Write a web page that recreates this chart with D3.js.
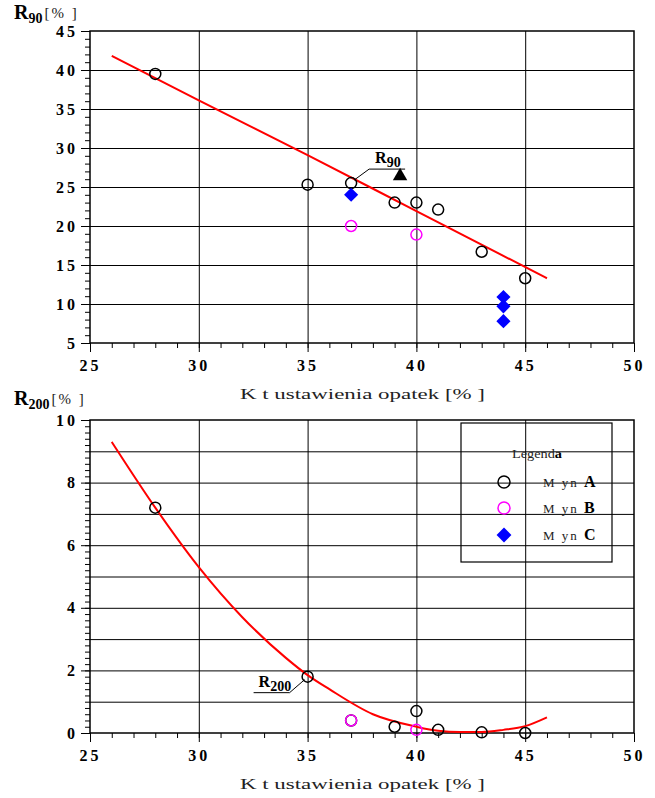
<!DOCTYPE html>
<html>
<head>
<meta charset="utf-8">
<script src="https://cdn.jsdelivr.net/npm/d3@7"></script>
<style>
  body { margin: 0; background: #fff; }
  svg { display: block; }
  .tick text { font-family: "Liberation Serif", serif; font-weight: bold; font-size: 16px; letter-spacing: 3px; fill: #000; }
  .lbl { font-family: "Liberation Serif", serif; fill: #222; }
</style>
</head>
<body>
<svg width="655" height="798"></svg>
<script>
// R90 – Mlyn A, B, C
var r90A_x = [28, 35, 37, 39, 40, 41, 43, 45];
var r90A_y = [39.5, 25.3, 25.5, 23, 23, 22.1, 16.7, 13.3];
var r90B_x = [37, 40];
var r90B_y = [20, 18.9];
var r90C_x = [37, 44, 44, 44];
var r90C_y = [24, 10.9, 9.7, 7.8];
var r90Tri = [39.25, 26.4];
// trend line R90
var r90Fit_x = [26, 30, 35, 40, 46];
var r90Fit_y = [41.8, 36.1, 29.1, 21.9, 13.3];

// R200
var r200A_x = [28, 35, 37, 39, 40, 41, 43, 45];
var r200A_y = [7.2, 1.8, 0.4, 0.2, 0.7, 0.1, 0.02, 0.0];
var r200B_x = [37, 40];
var r200B_y = [0.4, 0.1];
var r200Fit_x = [26, 28, 30, 32, 34, 35, 36, 38, 40, 41, 42, 43, 44, 45, 46];
var r200Fit_y = [9.3, 7.2, 5.3, 3.7, 2.4, 1.85, 1.4, 0.6, 0.2, 0.07, 0.03, 0.03, 0.1, 0.22, 0.5];

var xTicks = [25, 30, 35, 40, 45, 50];
var yTopTicks = [5, 10, 15, 20, 25, 30, 35, 40, 45];
var yBotTicks = [0, 2, 4, 6, 8, 10];
var xTitle = 'K  t ustawienia  opatek [%  ]';
var legendNames = ['M  yn  ', 'M  yn  ', 'M  yn  '];
var legendKeys = ['A', 'B', 'C'];

var svg = d3.select('svg');

function zip(xs, ys) { return xs.map((x, i) => [x, ys[i]]); }

function panel(cfg) {
  var x = d3.scaleLinear().domain([25, 50]).range([90, 634]);
  var y = d3.scaleLinear().domain(cfg.ydom).range(cfg.yrange);
  var g = svg.append('g');
  var top = cfg.yrange[1], bot = cfg.yrange[0];

  // grid
  g.append('g').attr('transform', `translate(0,${bot})`)
    .call(d3.axisBottom(x).tickValues(d3.range(30, 50, 5)).tickSize(-(bot - top)).tickFormat(''))
    .call(s => s.select('.domain').remove());
  g.append('g').attr('transform', 'translate(90,0)')
    .call(d3.axisLeft(y).tickValues(cfg.grid).tickSize(-(634 - 90)).tickFormat(''))
    .call(s => s.select('.domain').remove());

  // minor ticks
  g.append('g').attr('transform', `translate(0,${bot})`)
    .call(d3.axisBottom(x).tickValues(d3.range(25, 51, 1)).tickSize(5).tickFormat(''))
    .call(s => s.select('.domain').remove());
  g.append('g').attr('transform', 'translate(90,0)')
    .call(d3.axisLeft(y).tickValues(cfg.minor).tickSize(5).tickFormat(''))
    .call(s => s.select('.domain').remove());

  // major ticks + labels
  g.append('g').attr('transform', `translate(0,${bot})`)
    .call(d3.axisBottom(x).tickValues(xTicks).tickSize(9).tickPadding(8))
    .call(s => s.select('.domain').remove());
  g.append('g').attr('transform', 'translate(90,0)')
    .call(d3.axisLeft(y).tickValues(cfg.yticks).tickSize(9).tickPadding(3))
    .call(s => s.select('.domain').remove());
  g.selectAll('.tick line').attr('stroke', '#000');

  g.append('rect').attr('x', 90).attr('y', top).attr('width', 544).attr('height', bot - top)
    .attr('fill', 'none').attr('stroke', '#000').attr('stroke-width', 1.5);

  g.append('text').attr('class', 'lbl').attr('x', 240).attr('y', bot + 56)
    .attr('font-size', 15).attr('textLength', 245).attr('lengthAdjust', 'spacingAndGlyphs')
    .text(xTitle);

  // y title
  var t = g.append('text').attr('class', 'lbl').attr('x', 14).attr('y', cfg.titleY);
  t.append('tspan').attr('font-size', 20).attr('font-weight', 'bold').attr('fill', '#000').text('R');
  t.append('tspan').attr('font-size', 14).attr('font-weight', 'bold').attr('dy', 4).attr('fill', '#000')
    .text(cfg.sub);
  t.append('tspan').attr('font-size', 15).attr('dy', -5).attr('dx', 2).attr('letter-spacing', 2).text('[%  ]');

  // fit line
  var line = d3.line().x(d => x(d[0])).y(d => y(d[1])).curve(d3.curveMonotoneX);
  g.append('path').datum(zip(cfg.fitX, cfg.fitY)).attr('d', line)
    .attr('fill', 'none').attr('stroke', '#ff0000').attr('stroke-width', 2);

  return { g: g, x: x, y: y };
}

function circles(p, xs, ys, color) {
  p.g.append('g').selectAll('circle').data(zip(xs, ys)).join('circle')
    .attr('cx', d => p.x(d[0])).attr('cy', d => p.y(d[1])).attr('r', 5.5)
    .attr('fill', 'none').attr('stroke', color).attr('stroke-width', 1.5);
}
function diamonds(p, xs, ys, color) {
  p.g.append('g').selectAll('path').data(zip(xs, ys)).join('path')
    .attr('d', d3.symbol(d3.symbolSquare, 100))
    .attr('transform', d => `translate(${p.x(d[0])},${p.y(d[1])}) rotate(45)`)
    .attr('fill', color);
}
function note(p, pt, label, sub, dir) {
  var cx = p.x(pt[0]), cy = p.y(pt[1]);
  var hx = cx + dir * 18;
  var hy = dir > 0 ? cy - 14 : cy + 16;
  var ex = hx + dir * 36;
  p.g.append('path').attr('d', `M${cx + dir * 3},${cy - dir * 3}L${hx},${hy}L${ex},${hy}`)
    .attr('fill', 'none').attr('stroke', '#000').attr('stroke-width', 1);
  var tx = dir > 0 ? hx + 6 : ex + 5;
  var t = p.g.append('text').attr('class', 'lbl').attr('x', tx).attr('y', hy - 6);
  t.append('tspan').attr('font-size', 16).attr('font-weight', 'bold').attr('fill', '#000').text(label);
  t.append('tspan').attr('font-size', 14).attr('font-weight', 'bold').attr('dy', 4).attr('fill', '#000')
    .text(sub);
}

var p1 = panel({ ydom: [5, 45], yrange: [343, 31], grid: d3.range(10, 45, 5), minor: d3.range(5, 46, 1),
  yticks: yTopTicks, titleY: 19, sub: '90', fitX: r90Fit_x, fitY: r90Fit_y });
circles(p1, r90A_x, r90A_y, '#000');
circles(p1, r90B_x, r90B_y, '#ff00ff');
diamonds(p1, r90C_x, r90C_y, '#0000ff');
p1.g.append('path').attr('d', d3.symbol(d3.symbolTriangle, 90))
  .attr('transform', `translate(${p1.x(r90Tri[0])},${p1.y(r90Tri[1])})`).attr('fill', '#000');
note(p1, [37, 25.5], 'R', '90', 1);

var p2 = panel({ ydom: [0, 10], yrange: [733, 420], grid: d3.range(1, 10, 1), minor: d3.range(0, 10.01, 0.2).map(v => +v.toFixed(1)),
  yticks: yBotTicks, titleY: 405, sub: '200', fitX: r200Fit_x, fitY: r200Fit_y });
circles(p2, r200A_x, r200A_y, '#000');
circles(p2, r200B_x, r200B_y, '#ff00ff');
note(p2, [35, 1.8], 'R', '200', -1);

// legend
var lg = svg.append('g');
lg.append('rect').attr('x', 461).attr('y', 423).attr('width', 151).attr('height', 139)
  .attr('fill', 'none').attr('stroke', '#000').attr('stroke-width', 1.2);
lg.append('text').attr('class', 'lbl').attr('x', 512).attr('y', 458).attr('font-size', 13)
  .attr('textLength', 50).attr('lengthAdjust', 'spacingAndGlyphs').text('Legend')
  .append('tspan').attr('font-weight', 'bold').attr('fill', '#000').text('a');
var rowsY = [482, 508, 535];
legendKeys.forEach(function (k, i) {
  if (i < 2) {
    lg.append('circle').attr('cx', 504).attr('cy', rowsY[i]).attr('r', 6)
      .attr('fill', 'none').attr('stroke', i === 0 ? '#000' : '#ff00ff').attr('stroke-width', 1.5);
  } else {
    lg.append('path').attr('d', d3.symbol(d3.symbolSquare, 110))
      .attr('transform', `translate(504,${rowsY[i]}) rotate(45)`).attr('fill', '#0000ff');
  }
  var t = lg.append('text').attr('class', 'lbl').attr('x', 543).attr('y', rowsY[i] + 5).attr('font-size', 13);
  t.append('tspan').attr('letter-spacing', 2).text(legendNames[i]);
  t.append('tspan').attr('font-weight', 'bold').attr('font-size', 16).attr('fill', '#000').text(k);
});
</script>
</body>
</html>
